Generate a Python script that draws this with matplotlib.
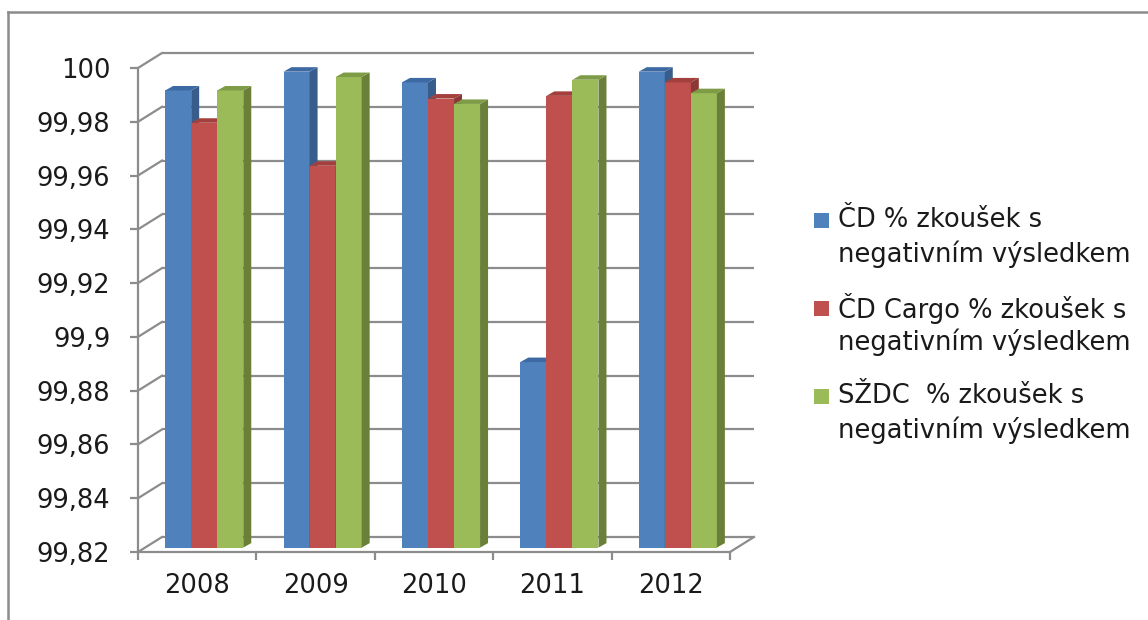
import matplotlib
matplotlib.use("Agg")
import matplotlib.pyplot as plt
from matplotlib.patches import Polygon, Rectangle
from matplotlib.lines import Line2D

# ---------------- data ----------------
years = ["2008", "2009", "2010", "2011", "2012"]
cd_values = [99.990, 99.997, 99.993, 99.889, 99.997]
cargo_values = [99.978, 99.962, 99.987, 99.988, 99.993]
szdc_values = [99.990, 99.995, 99.985, 99.994, 99.989]
series_names = ["ČD % zkoušek s\nnegativním výsledkem",
                "ČD Cargo % zkoušek s\nnegativním výsledkem",
                "SŽDC  % zkoušek s\nnegativním výsledkem"]
y_ticks = [99.82, 99.84, 99.86, 99.88, 99.90, 99.92, 99.94, 99.96, 99.98, 100.0]
y_tick_labels = ["99,82", "99,84", "99,86", "99,88", "99,9", "99,92",
                 "99,94", "99,96", "99,98", "100"]

# ---------------- style ----------------
W, H, DPI = 1148, 620, 100
front_colors = ["#4F81BD", "#C0504D", "#9BBB59"]
side_colors = ["#385D8A", "#8C3836", "#6A8038"]
top_colors = ["#3E6AA3", "#A3403D", "#7E9B45"]
grid_color = "#8C8C8C"
text_color = "#1A1A1A"
FS = 18.5

plt.rcParams['font.family'] = ['DejaVu Sans']
fig = plt.figure(figsize=(W / DPI, H / DPI), dpi=DPI)
fig.patch.set_facecolor("white")

# pixel geometry of the plot area
x0_px, x5_px = 138, 730        # front axis: category 0 .. 5
ytop_px, ybot_px = 68, 552     # front axis: 100 .. 99.82
depth_px = (24, 15)            # wall depth offset (right, up)
ymin, ymax = y_ticks[0], y_ticks[-1]
ncat = len(years)
ux = (x5_px - x0_px) / ncat              # px per x unit
uy = (ybot_px - ytop_px) / (ymax - ymin)  # px per y unit
DX = depth_px[0] / ux
DY = depth_px[1] / uy

ax = fig.add_axes([x0_px / W, 1 - ybot_px / H,
                   (x5_px - x0_px + depth_px[0]) / W,
                   (ybot_px - ytop_px + depth_px[1]) / H])
ax.set_xlim(0, ncat + DX)
ax.set_ylim(ymin, ymax + DY)
ax.set_facecolor("none")
for s in ["top", "right"]:
    ax.spines[s].set_visible(False)
for s in ["left", "bottom"]:
    ax.spines[s].set_color(grid_color)
    ax.spines[s].set_linewidth(1.6)
ax.spines["left"].set_bounds(ymin, ymax)
ax.spines["bottom"].set_bounds(0, ncat)

ax.set_yticks(y_ticks)
ax.set_yticklabels(y_tick_labels)
ax.tick_params(axis="y", length=6, width=1.6, color=grid_color, pad=14,
               labelsize=FS, labelcolor=text_color)
ax.set_xticks([i + 0.5 for i in range(ncat)])
ax.set_xticklabels(years)
ax.set_xticks(list(range(ncat + 1)), minor=True)
ax.tick_params(axis="x", which="major", length=0, pad=15,
               labelsize=FS, labelcolor=text_color)
ax.tick_params(axis="x", which="minor", length=6, width=1.6, color=grid_color)

# walls: back gridlines, side-wall diagonals, floor right edge
for t in y_ticks:
    ax.plot([DX, ncat + DX], [t + DY, t + DY], color=grid_color, lw=1.6,
            zorder=1, clip_on=False, solid_capstyle="butt")
    ax.plot([0, DX], [t, t + DY], color=grid_color, lw=1.6, zorder=1,
            clip_on=False)
ax.plot([ncat, ncat + DX], [ymin, ymin + DY], color=grid_color, lw=1.6,
        zorder=1, clip_on=False)

# bars (3D-look columns)
series = [cd_values, cargo_values, szdc_values]
nser = len(series)
group_w = 0.66
bw = group_w / nser
off_x, off_y = 7 / ux, 4.4 / uy       # front face shift into depth
dep_x, dep_y = 8 / ux, 4.5 / uy       # column depth
z = 3
for i in range(ncat):
    for j, vals in enumerate(series):
        v = vals[i]
        left = i + 0.5 - group_w / 2 + j * bw + off_x
        bottom = ymin + off_y
        top = v + off_y
        ax.bar(left, top - bottom, width=bw, bottom=bottom, align="edge",
               color=front_colors[j], linewidth=0, zorder=z)
        side = Polygon([(left + bw, bottom), (left + bw + dep_x, bottom + dep_y),
                        (left + bw + dep_x, top + dep_y), (left + bw, top)],
                       closed=True, facecolor=side_colors[j], linewidth=0,
                       zorder=z)
        cap = Polygon([(left, top), (left + dep_x, top + dep_y),
                       (left + bw + dep_x, top + dep_y), (left + bw, top)],
                      closed=True, facecolor=top_colors[j], linewidth=0,
                      zorder=z)
        ax.add_patch(side)
        ax.add_patch(cap)
        z += 1

# legend (manual, marker aligned to first line)
leg_rows = [(220, 254), (308, 342), (396, 430)]
for j, name in enumerate(series_names):
    l1, l2 = name.split("\n")
    y1, y2 = leg_rows[j]
    fig.add_artist(Rectangle((814 / W, 1 - (y1 + 8) / H), 15 / W, 15 / H,
                             transform=fig.transFigure,
                             facecolor=front_colors[j], edgecolor="none"))
    fig.text(838 / W, 1 - y1 / H, l1, fontsize=FS, color=text_color,
             va="center", ha="left")
    fig.text(838 / W, 1 - y2 / H, l2, fontsize=FS, color=text_color,
             va="center", ha="left")

# chart area border (top and left visible)
fig.add_artist(Line2D([8 / W, 1.0], [1 - 12 / H, 1 - 12 / H],
                      transform=fig.transFigure, color=grid_color, lw=1.8))
fig.add_artist(Line2D([8 / W, 8 / W], [0, 1 - 12 / H],
                      transform=fig.transFigure, color=grid_color, lw=1.8))

fig.savefig("out.png", dpi=DPI, facecolor="white")
